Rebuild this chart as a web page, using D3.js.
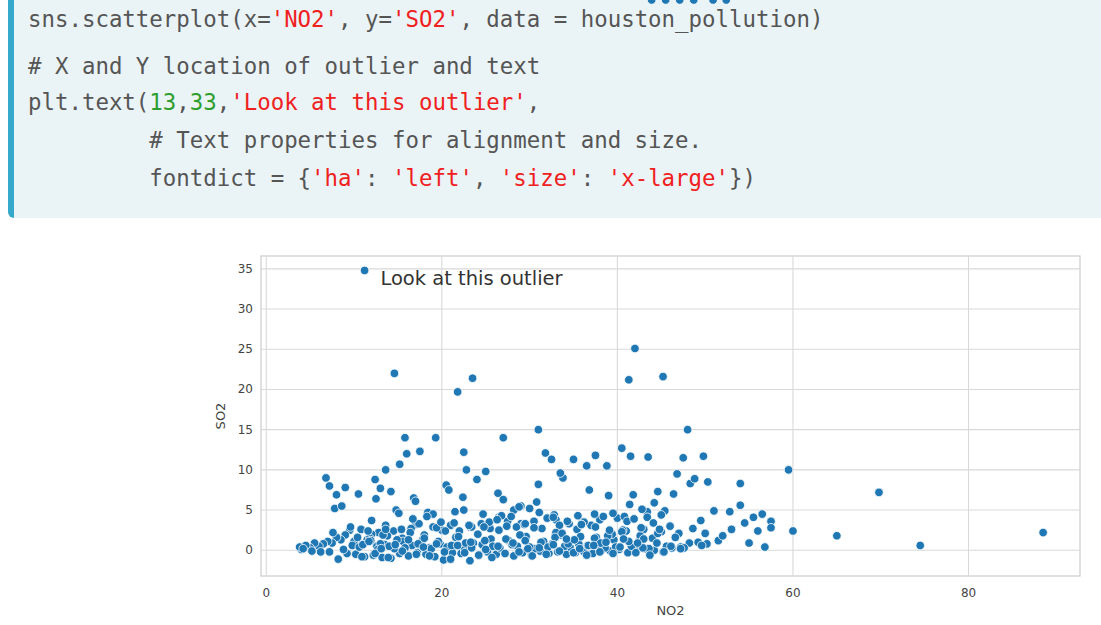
<!DOCTYPE html><html><head><meta charset="utf-8"><script src="https://cdn.jsdelivr.net/npm/d3@7"></script>
<style>body{margin:0;background:#fff;}svg text{font-family:"DejaVu Sans",sans-serif;}</style></head><body><svg id="c" width="1101" height="625"></svg>
<script>
const codeLines=[
 [["sns.scatterplot(x=","t"],["'NO2'","s"],[", y=","t"],["'SO2'","s"],[", data = houston_pollution)","t"]],
 [["# X and Y location of outlier and text","t"]],
 [["plt.text(","t"],["13","n"],[",","t"],["33","n"],[",","t"],["'Look at this outlier'","s"],[",","t"]],
 [["         # Text properties for alignment and size.","t"]],
 [["         fontdict = {","t"],["'ha'","s"],[": ","t"],["'left'","s"],[", ","t"],["'size'","s"],[": ","t"],["'x-large'","s"],["})","t"]]
];
const xTicks=[0,20,40,60,80];
const yTicks=[0,5,10,15,20,25,30,35];
const no2=[11.2,14.6,42,23.5,21.8,41.3,45.2,31,48,15.8,19.3,27,59.5,69.8,65,74.5,88.5,60,16,17.5,13.6,12.4,13,15.2,16.8,20.5,22.5,22.8,24,31.8,32.5,33.8,35,36.5,37.5,38.8,40.5,41.5,43.5,44.6,46.8,47.5,48.3,49.8,50.3,52.8,54,54.5,55.5,56.5,57.5,57.5,54,56,51,53,50,49.5,47,46,45,44,43,42.5,41,40,39.5,38,37,36,35.5,34.5,33,32,30.5,30,29,28.5,27.5,26.5,25.5,24.5,23.2,22,21,20,19,18,17,16.5,15.5,14.5,13.8,12.8,12,11.5,10.8,10,9.5,9,8.5,8,7.5,7,6.5,6,5.5,5,4.5,4,3.8,4.2,5.2,6.2,7.2,8.2,9.2,10.2,11.2,12.2,13.2,14.2,15.2,16.2,17.2,18.2,19.2,20.2,21.2,22.2,23.2,24.2,25.2,26.2,27.2,28.2,29.2,30.2,31.2,32.2,33.2,34.2,35.2,36.2,37.2,38.2,39.2,40.2,41.2,42.2,43.2,44.2,45.2,46.2,47.2,48.2,49.2,50.2,51.5,9.8,11.8,13.5,15.6,17.8,19.8,21.6,23.6,25.6,27.6,29.6,31.6,33.6,35.6,37.6,39.6,41.6,43.6,45.6,47.6,49.6,8.8,10.6,12.6,14.6,16.6,18.6,20.6,22.6,24.6,26.6,28.6,30.6,32.6,34.6,36.6,38.6,40.6,42.6,44.6,46.6,48.6,7.6,9.6,11.6,13.6,15.4,17.4,19.4,21.4,23.4,25.4,27.4,29.4,31.4,33.4,35.4,37.4,39.4,41.4,43.4,45.4,7.8,8.6,12.5,14.2,18.4,22.4,26.4,28.2,30.8,33,35.8,38.4,42.8,44.8,46.4,48.8,25,27,29,31,33.5,36.8,39,41.8,20.8,24.8,28.8,32.8,36.2,40.8,44.2,10.5,14.8,17,19,22.5,6.8,7.2,8,9,13,26.8,30,34,37.8,43,47.2,52,55,56.8,
 10.4,11,11.9,12.7,13.3,14,14.9,15.8,16.4,17.3,18,18.8,19.6,20.4,21.1,21.9,22.7,23.4,24.1,24.9,25.8,26.5,27.3,28,28.9,29.8,30.5,31.3,32.1,32.9,33.7,34.4,35.1,35.9,36.7,37.4,38.1,38.9,39.8,40.5,41.3,42.1,42.9,43.7,44.5,45.3,46.1,
 10.9,11.7,12.4,13.1,13.9,14.7,15.5,16.2,17.1,17.9,18.6,19.4,20.3,21,21.8,22.6,23.3,24.2,25,25.7,26.4,27.2,28.1,28.8,29.5,30.3,31.1,31.9,32.7,33.4,34.2,35,35.7,36.5,37.3,38,38.7,39.5,40.3,41.1,41.9,42.7,43.4,44.1,45,
 12,13.6,15.1,16.7,18.3,19.9,21.5,23.1,24.7,26.3,27.9,29.5,31.1,32.7,34.3,35.9,37.5,39.1,40.7,42.3,43.9,45.5,47.1,48.7,50.9,52.4];
const so2=[34.8,22,25.1,21.4,19.7,21.2,21.6,15,15,14,14,14,10,7.2,1.8,0.6,2.2,2.4,12,12.3,10,8.8,7.7,10.7,6.5,8.1,12.2,10,8.8,12.1,11.3,9,11.3,10.5,11.8,10.5,12.7,11.7,11.6,7.3,9.5,11.5,8.3,11.7,8.5,4.8,8.3,3.4,4.1,4.5,3.6,2.8,5.6,2.4,4.9,2.6,2.1,3.7,2.1,3,2.3,1.5,2.6,1.2,2.4,4,4.6,3.8,3.1,3.5,4.3,3.3,3.8,4,3.6,5.2,3.3,2.9,3.6,4.1,2.7,3.3,2.9,2.4,3.1,2.5,2.9,1.9,3.2,2.7,1.5,2.4,1.8,2.2,2,1.3,2.6,1.1,2.5,1.9,1.3,1.6,0.9,1.1,0.8,0.5,0.9,0.3,0.6,0.1,0.4,0.2,-0.1,-0.2,-0.2,-1.1,-0.4,-0.5,-0.8,-0.6,-0.9,-1,-0.4,-0.7,-0.3,-0.5,-0.8,-1.2,-0.3,-0.4,-1.3,-0.6,-0.2,-0.5,-0.4,-0.7,-0.3,-0.6,-0.1,-0.4,-0.2,-0.5,-0.3,-0.2,-0.4,0,-0.1,0.1,-0.3,0,0.2,0,-0.2,0.3,0.4,0.9,1,0.8,1.2,0.6,1.5,0.7,1.1,1.3,0.8,1.6,0.9,1.4,1.2,1.7,1.1,1.9,0.8,1.6,1.3,0.5,0.2,0.5,0.3,0.6,0.1,0.4,0.5,0.2,0.6,0.3,0.4,0.1,0.7,0.3,0.5,0.2,0.8,0.4,0.6,0.3,2.5,1.8,2.1,1.6,2.7,2.2,2.9,2.4,3.1,2.6,3.3,2.8,3.4,2.9,3.5,3,3.2,2.7,3.1,2.6,4.5,2,5.7,4.8,4.9,5.2,5.5,6.4,7.3,4.7,6.6,7.1,5,6,2.2,1.7,4.2,5.1,2.6,7,8.9,9.8,6.3,5.5,8.2,9.6,7.5,6.8,6.9,7.5,2.9,5.4,4.4,3.5,4.2,5.9,7,5,6.1,4.5,5,9,8,6.9,7.8,0.8,4.3,0.4,0.5,
 0.6,1.4,0.2,1.8,0.9,0.4,1.6,0.7,1.2,0.1,1.9,0.5,1.3,0.3,2.2,0.8,1.5,0.2,1.1,2.4,0.6,1.7,0.9,0.3,2,1.2,0.5,2.5,1.4,0.7,1.9,0.2,2.8,1,0.4,1.6,2.1,0.8,1.3,3.2,0.6,1.5,0.9,1.8,0.4,2.3,1.1,
 -0.3,0.3,-0.6,0.9,-0.2,0.5,-0.8,1.1,-0.4,0.2,-0.9,0.7,-0.1,1.3,-0.5,0.4,-0.7,0.8,-0.2,-1.1,0.6,-0.3,1,-0.6,0.1,-0.9,0.5,-0.4,0.9,-0.2,1.2,-0.7,0.3,-0.5,0.7,-0.1,1.4,-0.3,0.2,-0.6,0.6,-0.2,1,-0.4,0.4,
 3.6,3.9,2.8,4.1,3.4,4.4,3.7,2.6,4.6,3.9,4.2,3.5,4.8,3.1,4.5,3.8,4.2,3.3,4.7,4.1,3.6,3.2,2.9,2.5,1.4,0.9];
const clr={t:"#555",s:"#f0201e",n:"#2e9e2e"};
const svg=d3.select("#c");
const box=svg.append("g");
box.append("rect").attr("x",8).attr("y",-10).attr("width",1100).attr("height",228).attr("rx",6).attr("fill","#35a8cc");
box.append("rect").attr("x",14).attr("y",-10).attr("width",1100).attr("height",228).attr("fill","#eaf3f6");
const baseY=[27,74,110,148,186];
codeLines.forEach((ln,i)=>{
  const t=box.append("text").attr("x",28).attr("y",baseY[i]).attr("xml:space","preserve")
   .style("font-family","'DejaVu Sans Mono',monospace").style("font-size","22.4px");
  ln.forEach(([s,k])=>t.append("tspan").attr("fill",clr[k]).text(s));
});
const L=261,R=1080,T=256,B=576;
const x=d3.scaleLinear().domain([-0.6,92.7]).range([L,R]);
const y=d3.scaleLinear().domain([-3.2,36.6]).range([B,T]);
const g=svg.append("g");
g.append("rect").attr("x",L).attr("y",T).attr("width",R-L).attr("height",B-T).attr("fill","#fff").attr("stroke","#cccccc").attr("stroke-width",1.2);
g.selectAll(".gx").data(xTicks).join("line").attr("x1",d=>x(d)).attr("x2",d=>x(d)).attr("y1",T).attr("y2",B).attr("stroke","#d9d9d9").attr("stroke-width",1.1);
g.selectAll(".gy").data(yTicks).join("line").attr("y1",d=>y(d)).attr("y2",d=>y(d)).attr("x1",L).attr("x2",R).attr("stroke","#d9d9d9").attr("stroke-width",1.1);
g.selectAll(".xt").data(xTicks).join("text").attr("x",d=>x(d)).attr("y",B+21).attr("text-anchor","middle").attr("font-size",12).attr("fill","#444").text(d=>d);
g.selectAll(".yt").data(yTicks).join("text").attr("x",L-8).attr("y",d=>y(d)+4).attr("text-anchor","end").attr("font-size",12).attr("fill","#444").text(d=>d);
g.append("text").attr("x",(L+R)/2).attr("y",B+39).attr("text-anchor","middle").attr("font-size",13).attr("fill","#444").text("NO2");
g.append("text").attr("transform",`translate(${L-36},${(T+B)/2}) rotate(-90)`).attr("text-anchor","middle").attr("font-size",13).attr("fill","#444").text("SO2");
g.selectAll("circle").data(no2.map((v,i)=>[v,so2[i]])).join("circle").attr("cx",d=>x(d[0])).attr("cy",d=>y(d[1])).attr("r",4.3)
 .attr("fill","#1f77b4").attr("stroke","#fff").attr("stroke-width",0.8);
g.append("text").attr("x",x(13)).attr("y",y(33)).attr("font-size",19.5).attr("fill","#333").text("Look at this outlier");
</script></body></html>
